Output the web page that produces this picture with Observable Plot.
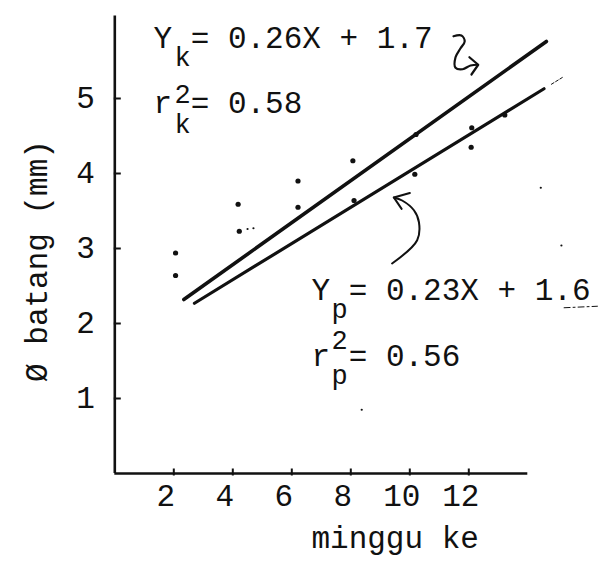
<!DOCTYPE html>
<html>
<head>
<meta charset="utf-8">
<script src="https://cdn.jsdelivr.net/npm/d3@7"></script>
<script src="https://cdn.jsdelivr.net/npm/@observablehq/plot@0.6"></script>
<style>
  html, body { margin: 0; padding: 0; background: #fff; }
  svg { display: block; }
</style>
</head>
<body>
<div id="chart"></div>
<script>
// ---------- data ----------
const xTicks = [2, 4, 6, 8, 10, 12];
const yTicks = [1, 2, 3, 4, 5];
const xAxisEnd = 14.0;      // length of drawn x axis (weeks)
const yAxisTop = 6.1;       // length of drawn y axis (mm)

// observed stem diameters (week, mm)
const pointX = [2.06, 2.06, 4.18, 4.22, 6.21, 6.21, 8.07, 8.11, 10.21, 10.17, 12.10, 12.08, 13.22];
const pointY = [2.94, 2.64, 3.59, 3.23, 3.90, 3.55, 4.17, 3.64, 4.52, 3.99, 4.61, 4.35, 4.78];
// faint specks in the scan
const speckX = [4.5, 4.7, 14.44, 15.14, 8.37];
const speckY = [3.26, 3.27, 3.81, 3.04, 0.85];

// fitted lines as drawn (end points)
const kLineX = [2.34, 14.63];
const kLineY = [2.32, 5.76];
const pLineX = [2.70, 14.55];
const pLineY = [2.27, 5.13];
const pDashX = [14.8, 15.17];
const pDashY = [5.19, 5.28];

// equation annotations (symbol, sub/superscript, right-hand side)
const eqHead = ["Y", "r", "Y", "r"];
const eqHeadX = [1.31, 1.31, 6.67, 6.67];
const eqBody = ["= 0.26X + 1.7", "= 0.58", "= 0.23X + 1.6", "= 0.56"];
const eqBodyX = [2.573, 2.573, 7.929, 7.929];
const eqY = [5.68, 4.81, 2.32, 1.44];
const scriptText = ["k", "2", "k", "p", "2", "p"];
const scriptX = [2.30, 2.30, 2.30, 7.62, 7.62, 7.62];
const scriptY = [5.44, 4.94, 4.54, 2.07, 1.66, 1.19];
const underX = [15.23, 16.36];
const underY = [2.21, 2.23];

// hand-drawn arrows
const kArrowX = [11.48, 11.75, 11.86, 11.72, 11.55, 11.55, 11.79, 12.06, 12.30];
const kArrowY = [5.83, 5.84, 5.76, 5.67, 5.55, 5.41, 5.39, 5.44, 5.45];
const kHeadX = [12.02, 12.32, 12.09];
const kHeadY = [5.55, 5.45, 5.32];
const pArrowX = [9.40, 10.25, 10.31, 10.14, 9.74, 9.46];
const pArrowY = [2.80, 3.11, 3.35, 3.51, 3.64, 3.68];
const pHeadX = [10.00, 9.46, 9.72];
const pHeadY = [3.74, 3.68, 3.53];

const xLabel = "minggu ke";
const yLabel = "Ø batang (mm)";

// ---------- drawing ----------
const FONT = '"Courier New", "Liberation Mono", monospace';
const FS = 31;
const FS_SCRIPT = 27;
const INK = "#111";

const tickUp = { draw(ctx) { ctx.moveTo(0, -5); ctx.lineTo(0, 2); } };
const tickRight = { draw(ctx) { ctx.moveTo(-1, 0); ctx.lineTo(6, 0); } };

const pts = (X, Y) => X.map((x, i) => ({x, y: Y[i]}));

const chart = Plot.plot({
  width: 605,
  height: 568,
  marginLeft: 114.3,
  marginRight: 3.95,
  marginTop: 8,
  marginBottom: 95,
  style: {fontFamily: FONT, fontSize: FS + "px", background: "#fff", color: INK, overflow: "visible"},
  x: {domain: [0, 16.5], axis: null},
  y: {domain: [0, 6.2], axis: null},
  marks: [
    // axes lines
    Plot.ruleY([0], {x1: 0, x2: xAxisEnd, stroke: INK, strokeWidth: 2.6}),
    Plot.ruleX([0], {y1: 0, y2: yAxisTop, stroke: INK, strokeWidth: 2.6}),
    // tick marks
    Plot.dot(xTicks, {x: d => d, y: 0, symbol: tickUp, fill: "none", stroke: INK, strokeWidth: 2}),
    Plot.dot(yTicks, {x: 0, y: d => d, symbol: tickRight, fill: "none", stroke: INK, strokeWidth: 2}),
    // tick labels
    Plot.axisX(xTicks, {tickSize: 0, tickPadding: 10.5, dx: -8, label: null, tickFormat: d => String(d), fontSize: FS, fontFamily: FONT, fill: INK}),
    Plot.axisY(yTicks, {tickSize: 0, tickPadding: 20, label: null, tickFormat: d => String(d), fontSize: FS, fontFamily: FONT, fill: INK}),
    // axis titles
    Plot.text([xLabel], {frameAnchor: "bottom", textAnchor: "middle", dx: 37, dy: 74, lineAnchor: "bottom", text: d => d, fontSize: FS, fontFamily: FONT, fill: INK}),
    Plot.text([yLabel], {frameAnchor: "left", textAnchor: "middle", rotate: -90, dx: -68, dy: 20, lineAnchor: "bottom", text: d => d, fontSize: FS, fontFamily: FONT, fill: INK}),
    // fitted lines
    Plot.line(pts(kLineX, kLineY), {x: "x", y: "y", stroke: INK, strokeWidth: 3.6}),
    Plot.line(pts(pLineX, pLineY), {x: "x", y: "y", stroke: INK, strokeWidth: 3.2}),
    Plot.line(pts(pDashX, pDashY), {x: "x", y: "y", stroke: INK, strokeWidth: 1, strokeDasharray: "3,2"}),
    // observations
    Plot.dot(pts(pointX, pointY), {x: "x", y: "y", r: 2.6, fill: INK, stroke: "none"}),
    Plot.dot(pts(speckX, speckY), {x: "x", y: "y", r: 1.1, fill: INK, stroke: "none"}),
    // equations
    Plot.text(eqHead, {x: (d, i) => eqHeadX[i], y: (d, i) => eqY[i], text: d => d, textAnchor: "start", lineAnchor: "bottom", fontSize: FS, fontFamily: FONT, fill: INK}),
    Plot.text(eqBody, {x: (d, i) => eqBodyX[i], y: (d, i) => eqY[i], text: d => d, textAnchor: "start", lineAnchor: "bottom", fontSize: FS, fontFamily: FONT, fill: INK}),
    Plot.text(scriptText, {x: (d, i) => scriptX[i], y: (d, i) => scriptY[i], text: d => d, textAnchor: "middle", lineAnchor: "bottom", fontSize: FS_SCRIPT, fontFamily: FONT, fill: INK}),
    Plot.line(pts(underX, underY), {x: "x", y: "y", stroke: INK, strokeWidth: 1, strokeDasharray: "6,3,2,3"}),
    // arrows
    Plot.line(pts(kArrowX, kArrowY), {x: "x", y: "y", curve: "catmull-rom", stroke: INK, strokeWidth: 2.2, fill: "none"}),
    Plot.line(pts(kHeadX, kHeadY), {x: "x", y: "y", stroke: INK, strokeWidth: 2.2}),
    Plot.line(pts(pArrowX, pArrowY), {x: "x", y: "y", curve: "catmull-rom", stroke: INK, strokeWidth: 2, fill: "none"}),
    Plot.line(pts(pHeadX, pHeadY), {x: "x", y: "y", stroke: INK, strokeWidth: 2.2})
  ]
});

document.getElementById("chart").append(chart);
</script>
</body>
</html>
